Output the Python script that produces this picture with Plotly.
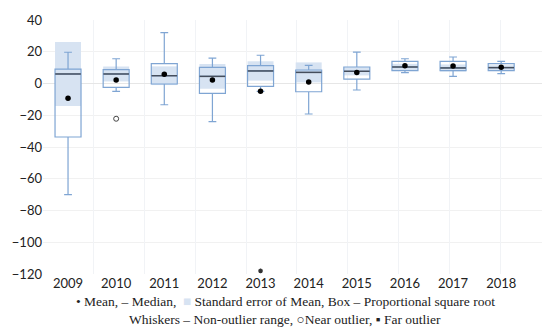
import plotly.graph_objects as go

years = [2009, 2010, 2011, 2012, 2013, 2014, 2015, 2016, 2017, 2018]
q1 = [-33.7, -2.4, -0.3, -6.2, -1.8, -5.2, 2.8, 8.1, 8.1, 8.1]
median = [6.0, 6.0, 4.9, 4.5, 7.9, 7.0, 7.7, 10.4, 9.8, 10.0]
q3 = [9.1, 8.7, 12.5, 10.2, 11.2, 8.5, 10.4, 14.0, 14.0, 12.5]
lower = [-70.0, -4.9, -13.4, -24.0, -4.9, -19.2, -4.1, 6.8, 4.5, 6.2]
upper = [19.7, 15.6, 32.0, 16.0, 17.8, 11.4, 19.8, 15.6, 16.7, 14.0]
mean = [-9.3, 2.2, 5.8, 2.2, -4.9, 0.9, 7.0, 11.2, 11.0, 10.2]
se = [20.1, 4.7, 5.9, 7.8, 6.1, 6.3, 2.6, 2.0, 2.2, 1.5]

near_x = [2010]
near_y = [-22.2]
far_x = [2013]
far_y = [-118.0]

yticks = [40, 20, 0, -20, -40, -60, -80, -100, -120]

BOX_LINE = "#7fa5d3"
SE_FILL = "#d7e3f2"
MED = "#454e5c"
BW = 0.54

fig = go.Figure()

fig.add_trace(go.Bar(
    x=years,
    base=[m - s for m, s in zip(median, se)],
    y=[2 * s for s in se],
    width=BW,
    marker=dict(color=SE_FILL, line=dict(width=0)),
    hoverinfo="skip",
))

fig.add_trace(go.Box(
    x=years, q1=q1, median=median, q3=q3,
    lowerfence=lower, upperfence=upper,
    width=BW, whiskerwidth=0.3,
    fillcolor="rgba(0,0,0,0)",
    line=dict(color=BOX_LINE, width=1.2),
    boxpoints=False,
))

fig.add_trace(go.Scatter(
    x=years, y=median, mode="markers",
    marker=dict(symbol="line-ew", size=18.3, line=dict(color=MED, width=1.5)),
))

fig.add_trace(go.Scatter(
    x=years, y=mean, mode="markers",
    marker=dict(symbol="circle", size=5.5, color="black"),
))

fig.add_trace(go.Scatter(
    x=near_x, y=near_y, mode="markers",
    marker=dict(symbol="circle-open", size=5, color="#444444", line=dict(width=1)),
))

fig.add_trace(go.Scatter(
    x=far_x, y=far_y, mode="markers",
    marker=dict(symbol="asterisk", size=4, color="#333333", line=dict(width=1.2, color="#333333")),
))

# dummy trace for grid overlay axis
fig.add_trace(go.Scatter(x=[], y=[], xaxis="x2", showlegend=False))

fig.update_layout(
    width=550, height=335,
    margin=dict(l=35, r=0, t=12, b=69),
    paper_bgcolor="white", plot_bgcolor="white",
    showlegend=False,
    barmode="overlay",
    font=dict(family="Lato, sans-serif", size=13, color="#222222"),
    xaxis=dict(
        range=[2008.48, 2019.18],
        tickvals=years, ticktext=[str(y) for y in years],
        showgrid=False, zeroline=False, showline=False,
        ticks="", ticklabelstandoff=0,
        tickfont=dict(family="Lato, sans-serif", size=13, color="#222222"),
    ),
    xaxis2=dict(
        overlaying="x", range=[0, 10.14], tickvals=list(range(1, 11)),
        showticklabels=False, showgrid=True, gridcolor="#f1f3f6", gridwidth=1,
        zeroline=False, showline=False, ticks="",
    ),
    yaxis=dict(
        range=[-120, 40], tickvals=yticks,
        showgrid=True, gridcolor="#f1f1f1", gridwidth=1,
        zeroline=True, zerolinecolor="#e6e6e6", zerolinewidth=1,
        showline=False, ticks="",
        tickfont=dict(family="Lato, sans-serif", size=13, color="#222222"),
    ),
    annotations=[
        dict(
            xref="paper", yref="paper", x=0.47, y=-0.07, xanchor="center", yanchor="top",
            showarrow=False,
            text=("• Mean, – Median,  <span style='color:#d7e3f2'>■</span> Standard error of Mean, "
                  "Box – Proportional square root"),
            font=dict(family="Liberation Serif, serif", size=13.5, color="#222222"),
        ),
        dict(
            xref="paper", yref="paper", x=0.47, y=-0.14, xanchor="center", yanchor="top",
            showarrow=False,
            text="Whiskers – Non-outlier range, ○Near outlier, ▪ Far outlier",
            font=dict(family="Liberation Serif, serif", size=13.5, color="#222222"),
        ),
    ],
)

fig.write_html("out.html")
